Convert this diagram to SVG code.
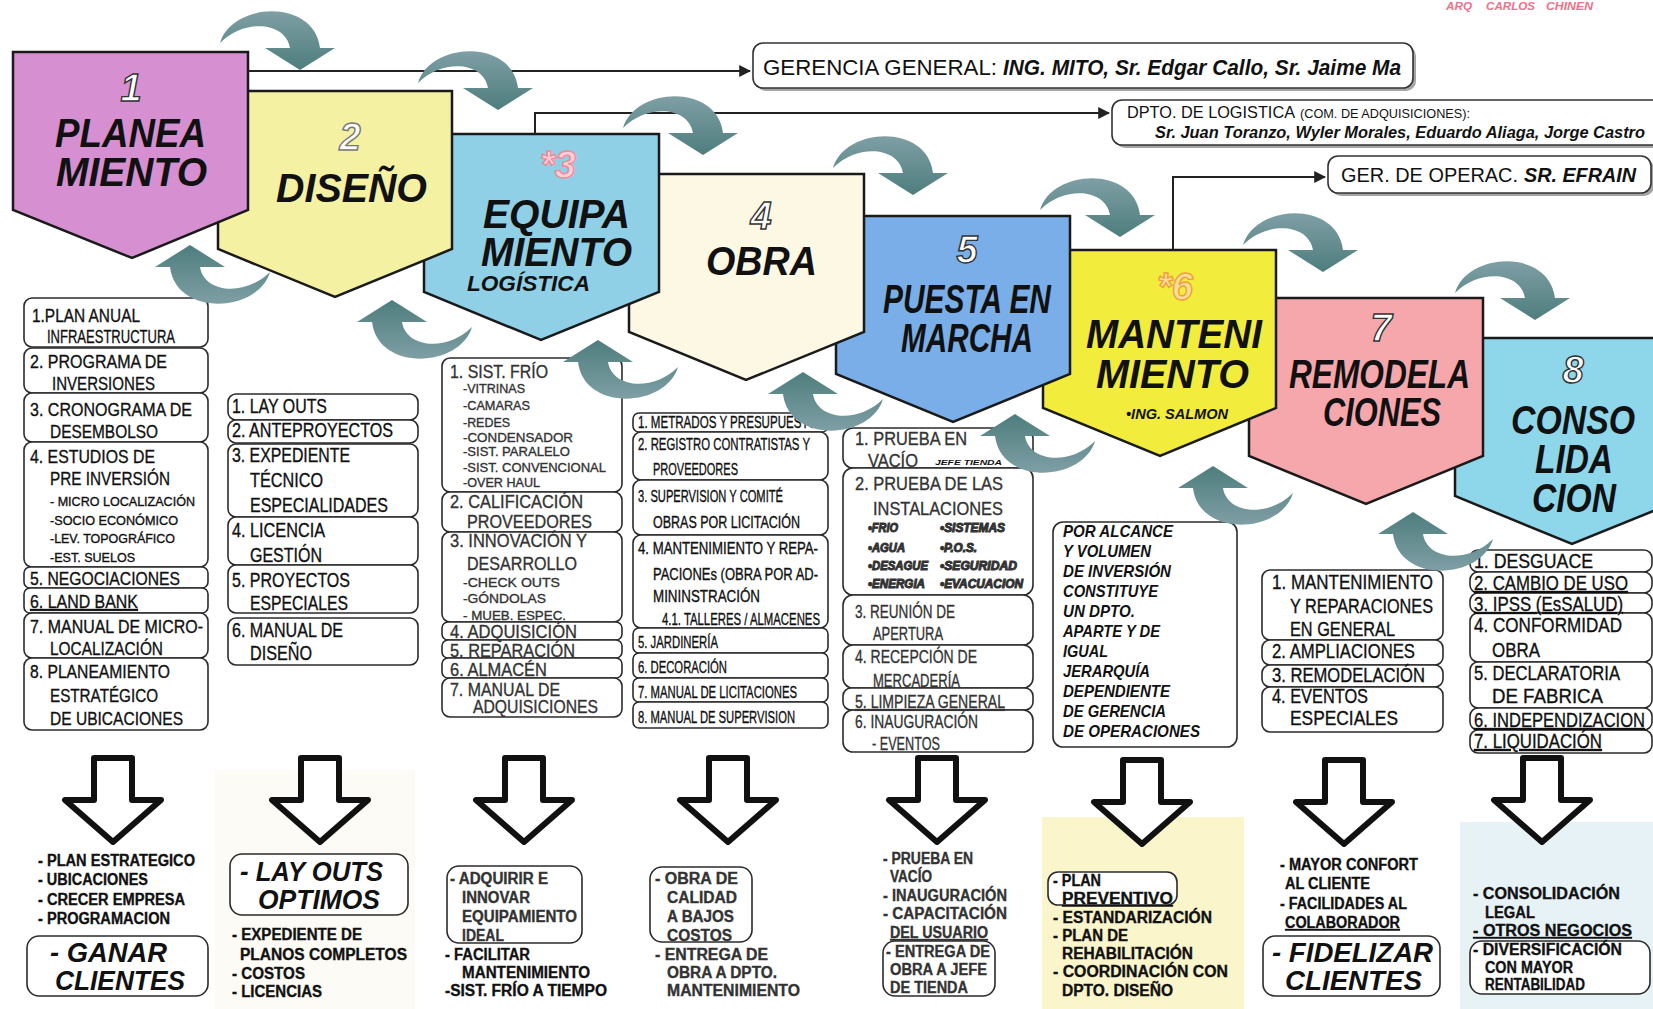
<svg xmlns="http://www.w3.org/2000/svg" width="1653" height="1009" viewBox="0 0 1653 1009">
<defs>
<style>
text{font-family:"Liberation Sans",Arial,Helvetica,sans-serif;fill:#111}
.pent{stroke:#1a1a1a;stroke-width:2.5;stroke-linejoin:miter}
.lbl{font-size:40px;font-weight:bold;font-style:italic}
.num{font-size:38px;font-weight:bold;font-style:italic;fill:#fff;stroke:#333;stroke-width:1.4}
.box{fill:#fff;stroke:#2b2b2b;stroke-width:1.6}
.c{font-size:19px}
.c2{font-size:20px}
.d{font-size:16px}
.s{font-size:13px}
.c,.c2,.d,.s{stroke:#111;stroke-width:0.35}
.b{font-weight:bold}
.bi{font-weight:bold;font-style:italic}
.arc{fill:url(#ag)}
.down{fill:#fff;stroke:#111;stroke-width:6;stroke-linejoin:round}
.conn{fill:none;stroke:#222;stroke-width:2}
.u{text-decoration:underline}
.g{fill:#333;stroke:#333}
</style>
<linearGradient id="ag" x1="0" y1="0" x2="0" y2="1">
<stop offset="0" stop-color="#7e9fa5"/>
<stop offset="1" stop-color="#4e7d7d"/>
</linearGradient>
<marker id="ah" viewBox="0 0 10 10" refX="9" refY="5" markerWidth="6" markerHeight="6" orient="auto">
<path d="M0,0 L10,5 L0,10 Z" fill="#222"/>
</marker>
<path id="tarc" d="M-80,-27 C-68,-68 14,-72 20,-22 L35,-22 L0,0 L-35,-22 L-10,-22 C-14,-48 -55,-52 -80,-27 Z"/>
</defs>

<rect x="0" y="0" width="1653" height="1009" fill="#fff"/>
<!-- faint backgrounds -->
<rect x="215" y="770" width="200" height="239" fill="#fcfbf5"/>
<rect x="1042" y="817" width="202" height="192" fill="#fbf5cc"/>
<rect x="1460" y="822" width="193" height="187" fill="#e7f2f7"/>

<!-- signature -->
<g id="signature">
<text class="bi" x="1446" y="10" font-size="11" style="fill:#f0708a" textLength="26" lengthAdjust="spacingAndGlyphs">ARQ</text>
<text class="bi" x="1486" y="10" font-size="11" style="fill:#f0708a" textLength="49" lengthAdjust="spacingAndGlyphs">CARLOS</text>
<text class="bi" x="1546" y="10" font-size="11" style="fill:#f0708a" textLength="47" lengthAdjust="spacingAndGlyphs">CHINEN</text>
</g>

<!-- pentagons, drawn back to front -->
<g id="n8"><polygon class="pent" fill="#8ed6ea" points="1455,338 1690,338 1690,496 1572,544 1455,496"/>
<text class="num" x="1573" y="383" text-anchor="middle">8</text>
<text class="lbl" x="1511" y="434" textLength="124" lengthAdjust="spacingAndGlyphs">CONSO</text>
<text class="lbl" x="1535" y="473" textLength="78" lengthAdjust="spacingAndGlyphs">LIDA</text>
<text class="lbl" x="1532" y="512" textLength="84" lengthAdjust="spacingAndGlyphs">CION</text></g>

<g id="n7"><polygon class="pent" fill="#f6a7ab" points="1249,298 1483,298 1483,456 1366,504 1249,456"/>
<text class="num" x="1381" y="341" text-anchor="middle">7</text>
<text class="lbl" x="1289" y="388" textLength="181" lengthAdjust="spacingAndGlyphs">REMODELA</text>
<text class="lbl" x="1323" y="426" textLength="118" lengthAdjust="spacingAndGlyphs">CIONES</text></g>

<g id="n6"><polygon class="pent" fill="#f2ec3c" points="1043,250 1276,250 1276,408 1160,456 1043,408"/>
<text class="num" x="1175" y="300" text-anchor="middle" style="fill:#fbdf9a;stroke:#f0a040">*6</text>
<text class="lbl" x="1086" y="348" textLength="176" lengthAdjust="spacingAndGlyphs">MANTENI</text>
<text class="lbl" x="1096" y="388" textLength="153" lengthAdjust="spacingAndGlyphs">MIENTO</text>
<text class="bi" x="1126" y="419" font-size="15" textLength="102" lengthAdjust="spacingAndGlyphs">•ING. SALMON</text></g>

<g id="n5"><polygon class="pent" fill="#7aaee8" points="836,216 1070,216 1070,374 953,422 836,374"/>
<text class="num" x="967" y="263" text-anchor="middle">5</text>
<text class="lbl" x="883" y="313" textLength="168" lengthAdjust="spacingAndGlyphs">PUESTA EN</text>
<text class="lbl" x="901" y="352" textLength="132" lengthAdjust="spacingAndGlyphs">MARCHA</text></g>

<g id="n4"><polygon class="pent" fill="#fdf8e4" points="629,174 864,174 864,332 746,380 629,332"/>
<text class="num" x="761" y="229" text-anchor="middle">4</text>
<text class="lbl" x="706" y="275" textLength="111" lengthAdjust="spacingAndGlyphs">OBRA</text></g>

<g id="n3"><polygon class="pent" fill="#8fd0e6" points="424,134 659,134 659,292 541,340 424,292"/>
<text class="num" x="558" y="178" text-anchor="middle" style="fill:#f9d0d8;stroke:#f08a98">*3</text>
<text class="lbl" x="483" y="228" textLength="147" lengthAdjust="spacingAndGlyphs">EQUIPA</text>
<text class="lbl" x="481" y="266" textLength="151" lengthAdjust="spacingAndGlyphs">MIENTO</text>
<text class="bi" x="467" y="291" font-size="22" textLength="123" lengthAdjust="spacingAndGlyphs">LOGÍSTICA</text></g>

<g id="n2"><polygon class="pent" fill="#f5f1a3" points="218,91 452,91 452,249 335,297 218,249"/>
<text class="num" x="350" y="150" text-anchor="middle" style="stroke:#777">2</text>
<text class="lbl" x="276" y="202" textLength="151" lengthAdjust="spacingAndGlyphs">DISEÑO</text></g>

<g id="n1"><polygon class="pent" fill="#d68fd0" points="13,52 248,52 248,210 132,258 13,210"/>
<text class="num" x="131" y="101" text-anchor="middle" font-size="40">1</text>
<text class="lbl" x="55" y="147" textLength="151" lengthAdjust="spacingAndGlyphs">PLANEA</text>
<text class="lbl" x="56" y="186" textLength="151" lengthAdjust="spacingAndGlyphs">MIENTO</text></g>

<!-- header boxes -->
<g id="gerencia">
<rect x="756" y="46" width="660" height="45" rx="10" fill="#a5a5a5"/>
<rect x="753" y="43" width="660" height="45" rx="10" fill="#fff" stroke="#333" stroke-width="1.6"/>
<text x="763" y="75" font-size="22" textLength="234" lengthAdjust="spacingAndGlyphs">GERENCIA GENERAL:</text>
<text class="bi" x="1003" y="75" font-size="22" textLength="398" lengthAdjust="spacingAndGlyphs">ING. MITO, Sr. Edgar Callo, Sr. Jaime Ma</text>
</g>
<g id="logistica">
<rect x="1115" y="103" width="560" height="45" rx="10" fill="#a5a5a5"/>
<rect x="1112" y="100" width="560" height="45" rx="10" fill="#fff" stroke="#333" stroke-width="1.6"/>
<text x="1127" y="118" font-size="17" textLength="168" lengthAdjust="spacingAndGlyphs">DPTO. DE LOGISTICA</text>
<text x="1300" y="118" font-size="12" textLength="170" lengthAdjust="spacingAndGlyphs">(COM. DE ADQUISICIONES):</text>
<text class="bi" x="1155" y="138" font-size="17" textLength="490" lengthAdjust="spacingAndGlyphs">Sr. Juan Toranzo, Wyler Morales, Eduardo Aliaga, Jorge Castro</text>
</g>
<g id="operaciones">
<rect x="1331" y="159" width="323" height="37" rx="10" fill="#a5a5a5"/>
<rect x="1328" y="156" width="323" height="37" rx="10" fill="#fff" stroke="#333" stroke-width="1.6"/>
<text x="1341" y="182" font-size="21" textLength="177" lengthAdjust="spacingAndGlyphs">GER. DE OPERAC.</text>
<text class="bi" x="1524" y="182" font-size="21" textLength="112" lengthAdjust="spacingAndGlyphs">SR. EFRAIN</text>
</g>

<!-- lists -->
<g id="list1">
<rect class="box" x="24" y="298" width="184" height="49" rx="8"/>
<rect class="box" x="24" y="348" width="184" height="45" rx="8"/>
<rect class="box" x="24" y="393" width="184" height="49" rx="8"/>
<rect class="box" x="24" y="442" width="184" height="125" rx="8"/>
<rect class="box" x="24" y="567" width="184" height="21" rx="6"/>
<rect class="box" x="24" y="588" width="184" height="25" rx="6"/>
<rect class="box" x="24" y="613" width="184" height="45" rx="8"/>
<rect class="box" x="24" y="658" width="184" height="72" rx="8"/>
<text class="c" x="32" y="322" textLength="108" lengthAdjust="spacingAndGlyphs">1.PLAN ANUAL</text>
<text class="c" x="47" y="343" textLength="128" lengthAdjust="spacingAndGlyphs">INFRAESTRUCTURA</text>
<text class="c" x="30" y="368" textLength="137" lengthAdjust="spacingAndGlyphs">2. PROGRAMA DE</text>
<text class="c" x="52" y="390" textLength="103" lengthAdjust="spacingAndGlyphs">INVERSIONES</text>
<text class="c" x="30" y="416" textLength="162" lengthAdjust="spacingAndGlyphs">3. CRONOGRAMA DE</text>
<text class="c" x="50" y="438" textLength="108" lengthAdjust="spacingAndGlyphs">DESEMBOLSO</text>
<text class="c" x="30" y="463" textLength="125" lengthAdjust="spacingAndGlyphs">4. ESTUDIOS DE</text>
<text class="c" x="50" y="485" textLength="120" lengthAdjust="spacingAndGlyphs">PRE INVERSIÓN</text>
<text class="s" x="50" y="506" textLength="145" lengthAdjust="spacingAndGlyphs">- MICRO LOCALIZACIÓN</text>
<text class="s" x="50" y="525" textLength="128" lengthAdjust="spacingAndGlyphs">-SOCIO ECONÓMICO</text>
<text class="s" x="50" y="543" textLength="125" lengthAdjust="spacingAndGlyphs">-LEV. TOPOGRÁFICO</text>
<text class="s" x="50" y="562" textLength="85" lengthAdjust="spacingAndGlyphs">-EST. SUELOS</text>
<text class="c" x="30" y="585" textLength="150" lengthAdjust="spacingAndGlyphs">5. NEGOCIACIONES</text>
<text class="c u" x="30" y="608" textLength="108" lengthAdjust="spacingAndGlyphs">6. LAND BANK</text>
<text class="c" x="30" y="633" textLength="173" lengthAdjust="spacingAndGlyphs">7. MANUAL DE  MICRO-</text>
<text class="c" x="50" y="655" textLength="113" lengthAdjust="spacingAndGlyphs">LOCALIZACIÓN</text>
<text class="c" x="30" y="678" textLength="140" lengthAdjust="spacingAndGlyphs">8. PLANEAMIENTO</text>
<text class="c" x="50" y="702" textLength="108" lengthAdjust="spacingAndGlyphs">ESTRATÉGICO</text>
<text class="c" x="50" y="725" textLength="133" lengthAdjust="spacingAndGlyphs">DE UBICACIONES</text>
</g>

<g id="list2">
<rect class="box" x="228" y="394" width="190" height="26" rx="8"/>
<rect class="box" x="228" y="420" width="190" height="23" rx="8"/>
<rect class="box" x="228" y="444" width="190" height="73" rx="8"/>
<rect class="box" x="228" y="517" width="190" height="48" rx="8"/>
<rect class="box" x="228" y="565" width="190" height="48" rx="8"/>
<rect class="box" x="228" y="618" width="190" height="47" rx="8"/>
<text class="c2" x="232" y="413" textLength="95" lengthAdjust="spacingAndGlyphs">1. LAY OUTS</text>
<text class="c2" x="232" y="437" textLength="161" lengthAdjust="spacingAndGlyphs">2. ANTEPROYECTOS</text>
<text class="c2" x="232" y="462" textLength="118" lengthAdjust="spacingAndGlyphs">3. EXPEDIENTE</text>
<text class="c2" x="250" y="487" textLength="73" lengthAdjust="spacingAndGlyphs">TÉCNICO</text>
<text class="c2" x="250" y="512" textLength="138" lengthAdjust="spacingAndGlyphs">ESPECIALIDADES</text>
<text class="c2" x="232" y="537" textLength="93" lengthAdjust="spacingAndGlyphs">4. LICENCIA</text>
<text class="c2" x="250" y="562" textLength="72" lengthAdjust="spacingAndGlyphs">GESTIÓN</text>
<text class="c2" x="232" y="587" textLength="118" lengthAdjust="spacingAndGlyphs">5. PROYECTOS</text>
<text class="c2" x="250" y="610" textLength="98" lengthAdjust="spacingAndGlyphs">ESPECIALES</text>
<text class="c2" x="232" y="637" textLength="111" lengthAdjust="spacingAndGlyphs">6. MANUAL DE</text>
<text class="c2" x="250" y="660" textLength="62" lengthAdjust="spacingAndGlyphs">DISEÑO</text>
</g>

<g id="list3">
<rect class="box" x="442" y="358" width="180" height="134" rx="8"/>
<rect class="box" x="442" y="492" width="180" height="40" rx="8"/>
<rect class="box" x="442" y="532" width="180" height="90" rx="8"/>
<rect class="box" x="442" y="622" width="180" height="18" rx="6"/>
<rect class="box" x="442" y="640" width="180" height="18" rx="6"/>
<rect class="box" x="442" y="658" width="180" height="20" rx="6"/>
<rect class="box" x="442" y="678" width="180" height="39" rx="8"/>
<text class="c g" x="450" y="378" textLength="98" lengthAdjust="spacingAndGlyphs">1. SIST. FRÍO</text>
<text class="s g" x="463" y="393" textLength="62" lengthAdjust="spacingAndGlyphs">-VITRINAS</text>
<text class="s g" x="463" y="410" textLength="67" lengthAdjust="spacingAndGlyphs">-CAMARAS</text>
<text class="s g" x="463" y="427" textLength="47" lengthAdjust="spacingAndGlyphs">-REDES</text>
<text class="s g" x="463" y="442" textLength="110" lengthAdjust="spacingAndGlyphs">-CONDENSADOR</text>
<text class="s g" x="463" y="456" textLength="107" lengthAdjust="spacingAndGlyphs">-SIST. PARALELO</text>
<text class="s g" x="463" y="472" textLength="143" lengthAdjust="spacingAndGlyphs">-SIST. CONVENCIONAL</text>
<text class="s g" x="463" y="487" textLength="77" lengthAdjust="spacingAndGlyphs">-OVER HAUL</text>
<text class="c g" x="450" y="508" textLength="133" lengthAdjust="spacingAndGlyphs">2. CALIFICACIÓN</text>
<text class="c g" x="467" y="528" textLength="125" lengthAdjust="spacingAndGlyphs">PROVEEDORES</text>
<text class="c g" x="450" y="547" textLength="137" lengthAdjust="spacingAndGlyphs">3. INNOVACIÓN Y</text>
<text class="c g" x="467" y="570" textLength="110" lengthAdjust="spacingAndGlyphs">DESARROLLO</text>
<text class="s g" x="463" y="587" textLength="97" lengthAdjust="spacingAndGlyphs">-CHECK OUTS</text>
<text class="s g" x="463" y="603" textLength="83" lengthAdjust="spacingAndGlyphs">-GÓNDOLAS</text>
<text class="s g" x="463" y="620" textLength="103" lengthAdjust="spacingAndGlyphs">- MUEB. ESPEC.</text>
<text class="c g" x="450" y="638" font-size="17" textLength="127" lengthAdjust="spacingAndGlyphs">4. ADQUISICIÓN</text>
<text class="c g" x="450" y="657" font-size="17" textLength="125" lengthAdjust="spacingAndGlyphs">5. REPARACIÓN</text>
<text class="c g" x="450" y="676" font-size="17" textLength="97" lengthAdjust="spacingAndGlyphs">6. ALMACÉN</text>
<text class="c g" x="450" y="696" font-size="17" textLength="110" lengthAdjust="spacingAndGlyphs">7. MANUAL DE</text>
<text class="c g" x="473" y="713" font-size="17" textLength="125" lengthAdjust="spacingAndGlyphs">ADQUISICIONES</text>
</g>

<g id="list4">
<rect class="box" x="633" y="413" width="195" height="19" rx="6"/>
<rect class="box" x="633" y="432" width="195" height="48" rx="8"/>
<rect class="box" x="633" y="480" width="195" height="55" rx="8"/>
<rect class="box" x="633" y="535" width="195" height="93" rx="8"/>
<rect class="box" x="633" y="628" width="195" height="25" rx="6"/>
<rect class="box" x="633" y="653" width="195" height="25" rx="6"/>
<rect class="box" x="633" y="678" width="195" height="24" rx="6"/>
<rect class="box" x="633" y="702" width="195" height="26" rx="6"/>
<text class="d" x="638" y="428" textLength="187" lengthAdjust="spacingAndGlyphs">1. METRADOS Y PRESUPUESTOS</text>
<text class="d" x="638" y="450" textLength="172" lengthAdjust="spacingAndGlyphs">2. REGISTRO CONTRATISTAS Y</text>
<text class="d" x="653" y="475" textLength="85" lengthAdjust="spacingAndGlyphs">PROVEEDORES</text>
<text class="d" x="638" y="502" textLength="145" lengthAdjust="spacingAndGlyphs">3. SUPERVISION Y COMITÉ</text>
<text class="d" x="653" y="528" textLength="147" lengthAdjust="spacingAndGlyphs">OBRAS POR LICITACIÓN</text>
<text class="d" x="638" y="554" textLength="180" lengthAdjust="spacingAndGlyphs">4. MANTENIMIENTO Y REPA-</text>
<text class="d" x="653" y="580" textLength="165" lengthAdjust="spacingAndGlyphs">PACIONEs (OBRA POR AD-</text>
<text class="d" x="653" y="602" textLength="107" lengthAdjust="spacingAndGlyphs">MININSTRACIÓN</text>
<text class="d" x="662" y="625" textLength="158" lengthAdjust="spacingAndGlyphs">4.1.  TALLERES / ALMACENES</text>
<text class="d" x="638" y="648" textLength="80" lengthAdjust="spacingAndGlyphs">5. JARDINERÍA</text>
<text class="d" x="638" y="673" textLength="89" lengthAdjust="spacingAndGlyphs">6. DECORACIÓN</text>
<text class="d" x="638" y="698" textLength="159" lengthAdjust="spacingAndGlyphs">7. MANUAL DE LICITACIONES</text>
<text class="d" x="638" y="723" textLength="157" lengthAdjust="spacingAndGlyphs">8. MANUAL DE SUPERVISION</text>
</g>

<g id="list5">
<rect class="box" x="843" y="428" width="190" height="40" rx="10"/>
<rect class="box" x="843" y="468" width="190" height="127" rx="10"/>
<rect class="box" x="843" y="595" width="190" height="50" rx="10"/>
<rect class="box" x="843" y="645" width="190" height="43" rx="10"/>
<rect class="box" x="843" y="688" width="190" height="22" rx="8"/>
<rect class="box" x="843" y="710" width="190" height="42" rx="10"/>
<text class="c g" x="855" y="445" textLength="112" lengthAdjust="spacingAndGlyphs">1. PRUEBA EN</text>
<text class="c g" x="868" y="467" textLength="50" lengthAdjust="spacingAndGlyphs">VACÍO</text>
<text class="bi" x="935" y="465" font-size="8" textLength="67" lengthAdjust="spacingAndGlyphs">JEFE TIENDA</text>
<text class="c g" x="855" y="490" textLength="148" lengthAdjust="spacingAndGlyphs">2. PRUEBA DE LAS</text>
<text class="c g" x="873" y="515" textLength="130" lengthAdjust="spacingAndGlyphs">INSTALACIONES</text>
<text class="bi g" x="868" y="532" font-size="12" textLength="30" lengthAdjust="spacingAndGlyphs">•FRIO</text>
<text class="bi g" x="940" y="532" font-size="12" textLength="65" lengthAdjust="spacingAndGlyphs">•SISTEMAS</text>
<text class="bi g" x="868" y="552" font-size="12" textLength="37" lengthAdjust="spacingAndGlyphs">•AGUA</text>
<text class="bi g" x="940" y="552" font-size="12" textLength="37" lengthAdjust="spacingAndGlyphs">•P.O.S.</text>
<text class="bi g" x="868" y="570" font-size="12" textLength="60" lengthAdjust="spacingAndGlyphs">•DESAGUE</text>
<text class="bi g" x="940" y="570" font-size="12" textLength="77" lengthAdjust="spacingAndGlyphs">•SEGURIDAD</text>
<text class="bi g" x="868" y="588" font-size="12" textLength="57" lengthAdjust="spacingAndGlyphs">•ENERGIA</text>
<text class="bi g" x="940" y="588" font-size="12" textLength="83" lengthAdjust="spacingAndGlyphs">•EVACUACION</text>
<text class="c g" x="855" y="618" textLength="100" lengthAdjust="spacingAndGlyphs">3. REUNIÓN DE</text>
<text class="c g" x="873" y="640" textLength="70" lengthAdjust="spacingAndGlyphs">APERTURA</text>
<text class="c g" x="855" y="663" textLength="122" lengthAdjust="spacingAndGlyphs">4. RECEPCIÓN DE</text>
<text class="c g" x="873" y="687" textLength="87" lengthAdjust="spacingAndGlyphs">MERCADERÍA</text>
<text class="c g u" x="855" y="708" textLength="150" lengthAdjust="spacingAndGlyphs">5. LIMPIEZA GENERAL</text>
<text class="c g" x="855" y="728" textLength="123" lengthAdjust="spacingAndGlyphs">6. INAUGURACIÓN</text>
<text class="c g" x="872" y="750" textLength="68" lengthAdjust="spacingAndGlyphs">- EVENTOS</text>
</g>

<g id="list6">
<rect class="box" x="1053" y="522" width="184" height="225" rx="10"/>
<text class="bi" x="1063" y="537" font-size="17" textLength="110" lengthAdjust="spacingAndGlyphs">POR ALCANCE</text>
<text class="bi" x="1063" y="557" font-size="17" textLength="88" lengthAdjust="spacingAndGlyphs">Y VOLUMEN</text>
<text class="bi" x="1063" y="577" font-size="17" textLength="108" lengthAdjust="spacingAndGlyphs">DE INVERSIÓN</text>
<text class="bi" x="1063" y="597" font-size="17" textLength="95" lengthAdjust="spacingAndGlyphs">CONSTITUYE</text>
<text class="bi" x="1063" y="617" font-size="17" textLength="72" lengthAdjust="spacingAndGlyphs">UN DPTO.</text>
<text class="bi" x="1063" y="637" font-size="17" textLength="97" lengthAdjust="spacingAndGlyphs">APARTE Y DE</text>
<text class="bi" x="1063" y="657" font-size="17" textLength="45" lengthAdjust="spacingAndGlyphs">IGUAL</text>
<text class="bi" x="1063" y="677" font-size="17" textLength="87" lengthAdjust="spacingAndGlyphs">JERARQUÍA</text>
<text class="bi" x="1063" y="697" font-size="17" textLength="107" lengthAdjust="spacingAndGlyphs">DEPENDIENTE</text>
<text class="bi" x="1063" y="717" font-size="17" textLength="103" lengthAdjust="spacingAndGlyphs">DE GERENCIA</text>
<text class="bi" x="1063" y="737" font-size="17" textLength="137" lengthAdjust="spacingAndGlyphs">DE OPERACIONES</text>
</g>

<g id="list7">
<rect class="box" x="1262" y="570" width="181" height="70" rx="8"/>
<rect class="box" x="1262" y="640" width="181" height="25" rx="8"/>
<rect class="box" x="1262" y="665" width="181" height="22" rx="8"/>
<rect class="box" x="1262" y="687" width="181" height="45" rx="8"/>
<text class="c2" x="1272" y="589" textLength="161" lengthAdjust="spacingAndGlyphs">1. MANTENIMIENTO</text>
<text class="c2" x="1290" y="613" textLength="143" lengthAdjust="spacingAndGlyphs">Y REPARACIONES</text>
<text class="c2" x="1290" y="636" textLength="105" lengthAdjust="spacingAndGlyphs">EN GENERAL</text>
<text class="c2" x="1272" y="658" textLength="143" lengthAdjust="spacingAndGlyphs">2. AMPLIACIONES</text>
<text class="c2" x="1272" y="682" textLength="153" lengthAdjust="spacingAndGlyphs">3. REMODELACIÓN</text>
<text class="c2" x="1272" y="703" textLength="96" lengthAdjust="spacingAndGlyphs">4. EVENTOS</text>
<text class="c2" x="1290" y="725" textLength="108" lengthAdjust="spacingAndGlyphs">ESPECIALES</text>
</g>

<g id="list8">
<rect class="box" x="1470" y="550" width="182" height="22" rx="8"/>
<rect class="box" x="1470" y="572" width="182" height="21" rx="8"/>
<rect class="box" x="1470" y="593" width="182" height="20" rx="8"/>
<rect class="box" x="1470" y="613" width="182" height="49" rx="8"/>
<rect class="box" x="1470" y="662" width="182" height="46" rx="8"/>
<rect class="box" x="1470" y="708" width="182" height="22" rx="8"/>
<rect class="box" x="1470" y="730" width="182" height="23" rx="8"/>
<text class="c2" x="1474" y="568" textLength="119" lengthAdjust="spacingAndGlyphs">1. DESGUACE</text>
<text class="c2 u" x="1474" y="590" textLength="154" lengthAdjust="spacingAndGlyphs">2. CAMBIO DE USO</text>
<text class="c2 u" x="1474" y="611" textLength="149" lengthAdjust="spacingAndGlyphs">3. IPSS (EsSALUD)</text>
<text class="c2" x="1474" y="632" textLength="148" lengthAdjust="spacingAndGlyphs">4. CONFORMIDAD</text>
<text class="c2" x="1492" y="657" textLength="48" lengthAdjust="spacingAndGlyphs">OBRA</text>
<text class="c2" x="1474" y="680" textLength="146" lengthAdjust="spacingAndGlyphs">5. DECLARATORIA</text>
<text class="c2" x="1492" y="703" textLength="111" lengthAdjust="spacingAndGlyphs">DE FABRICA</text>
<text class="c2 u" x="1474" y="727" textLength="171" lengthAdjust="spacingAndGlyphs">6. INDEPENDIZACION</text>
<text class="c2 u" x="1474" y="748" textLength="128" lengthAdjust="spacingAndGlyphs">7. LIQUIDACIÓN</text>
</g>

<!-- connectors -->
<g id="connectors">
<path class="conn" d="M248,71 H750" marker-end="url(#ah)"/>
<path class="conn" d="M535,134 V113 H1109" marker-end="url(#ah)"/>
<path class="conn" d="M1173,250 V177 H1325" marker-end="url(#ah)"/>
<use class="arc" href="#tarc" transform="translate(300,70)"/>
<use class="arc" href="#tarc" transform="translate(498,110)"/>
<use class="arc" href="#tarc" transform="translate(703,155)"/>
<use class="arc" href="#tarc" transform="translate(913,195)"/>
<use class="arc" href="#tarc" transform="translate(1120,237)"/>
<use class="arc" href="#tarc" transform="translate(1323,272)"/>
<use class="arc" href="#tarc" transform="translate(1535,320)"/>
<use class="arc" href="#tarc" transform="translate(190,245) rotate(180)"/>
<use class="arc" href="#tarc" transform="translate(392,300) rotate(180)"/>
<use class="arc" href="#tarc" transform="translate(598,340) rotate(180)"/>
<use class="arc" href="#tarc" transform="translate(803,372) rotate(180)"/>
<use class="arc" href="#tarc" transform="translate(1015,414) rotate(180)"/>
<use class="arc" href="#tarc" transform="translate(1213,466) rotate(180)"/>
<use class="arc" href="#tarc" transform="translate(1413,512) rotate(180)"/>
<path class="down" d="M94,758 H132 V800 H161 L113,842 L65,800 H94 Z"/>
<path class="down" d="M301,758 H339 V800 H368 L320,842 L272,800 H301 Z"/>
<path class="down" d="M505,758 H543 V800 H572 L524,842 L476,800 H505 Z"/>
<path class="down" d="M709,758 H747 V800 H776 L728,842 L680,800 H709 Z"/>
<path class="down" d="M918,758 H956 V800 H985 L937,842 L889,800 H918 Z"/>
<path class="down" d="M1123,760 H1161 V802 H1190 L1142,844 L1094,802 H1123 Z"/>
<path class="down" d="M1325,760 H1363 V802 H1392 L1344,844 L1296,802 H1325 Z"/>
<path class="down" d="M1523,758 H1561 V800 H1590 L1542,842 L1494,800 H1523 Z"/>
</g>

<!-- results -->
<g id="res1">
<text class="d b" x="38" y="866" textLength="157" lengthAdjust="spacingAndGlyphs">- PLAN ESTRATEGICO</text>
<text class="d b" x="38" y="885" textLength="110" lengthAdjust="spacingAndGlyphs">- UBICACIONES</text>
<text class="d b" x="38" y="905" textLength="147" lengthAdjust="spacingAndGlyphs">- CRECER EMPRESA</text>
<text class="d b" x="38" y="924" textLength="132" lengthAdjust="spacingAndGlyphs">- PROGRAMACION</text>
<rect class="box" x="27" y="936" width="181" height="60" rx="12"/>
<text class="bi" x="50" y="962" font-size="28" textLength="117" lengthAdjust="spacingAndGlyphs">- GANAR</text>
<text class="bi" x="55" y="990" font-size="28" textLength="130" lengthAdjust="spacingAndGlyphs">CLIENTES</text>
</g>
<g id="res2">
<rect class="box" x="230" y="854" width="178" height="61" rx="12"/>
<text class="bi" x="240" y="881" font-size="28" textLength="143" lengthAdjust="spacingAndGlyphs">- LAY OUTS</text>
<text class="bi" x="258" y="909" font-size="28" textLength="122" lengthAdjust="spacingAndGlyphs">OPTIMOS</text>
<text class="d b" x="232" y="940" textLength="130" lengthAdjust="spacingAndGlyphs">- EXPEDIENTE DE</text>
<text class="d b" x="240" y="960" textLength="167" lengthAdjust="spacingAndGlyphs">PLANOS COMPLETOS</text>
<text class="d b" x="232" y="979" textLength="73" lengthAdjust="spacingAndGlyphs">- COSTOS</text>
<text class="d b" x="232" y="997" textLength="90" lengthAdjust="spacingAndGlyphs">- LICENCIAS</text>
</g>
<g id="res3">
<rect class="box" x="447" y="866" width="135" height="77" rx="12"/>
<text class="d b g" x="450" y="884" textLength="98" lengthAdjust="spacingAndGlyphs">- ADQUIRIR E</text>
<text class="d b g" x="462" y="903" textLength="68" lengthAdjust="spacingAndGlyphs">INNOVAR</text>
<text class="d b g" x="462" y="922" textLength="115" lengthAdjust="spacingAndGlyphs">EQUIPAMIENTO</text>
<text class="d b g" x="462" y="941" textLength="42" lengthAdjust="spacingAndGlyphs">IDEAL</text>
<text class="d b" x="445" y="960" textLength="85" lengthAdjust="spacingAndGlyphs">- FACILITAR</text>
<text class="d b" x="462" y="978" textLength="128" lengthAdjust="spacingAndGlyphs">MANTENIMIENTO</text>
<text class="d b" x="445" y="996" textLength="162" lengthAdjust="spacingAndGlyphs">-SIST. FRÍO A TIEMPO</text>
</g>
<g id="res4">
<rect class="box" x="650" y="867" width="102" height="75" rx="12"/>
<text class="d b g" x="655" y="884" textLength="83" lengthAdjust="spacingAndGlyphs">- OBRA DE</text>
<text class="d b g" x="667" y="903" textLength="70" lengthAdjust="spacingAndGlyphs">CALIDAD</text>
<text class="d b g" x="667" y="922" textLength="67" lengthAdjust="spacingAndGlyphs">A BAJOS</text>
<text class="d b g" x="667" y="941" textLength="65" lengthAdjust="spacingAndGlyphs">COSTOS</text>
<text class="d b g" x="655" y="960" textLength="113" lengthAdjust="spacingAndGlyphs">- ENTREGA DE</text>
<text class="d b g" x="667" y="978" textLength="110" lengthAdjust="spacingAndGlyphs">OBRA A DPTO.</text>
<text class="d b g" x="667" y="996" textLength="133" lengthAdjust="spacingAndGlyphs">MANTENIMIENTO</text>
</g>
<g id="res5">
<text class="d b g" x="883" y="864" textLength="90" lengthAdjust="spacingAndGlyphs">- PRUEBA EN</text>
<text class="d b g" x="890" y="882" textLength="42" lengthAdjust="spacingAndGlyphs">VACÍO</text>
<text class="d b g" x="883" y="901" textLength="124" lengthAdjust="spacingAndGlyphs">- INAUGURACIÓN</text>
<text class="d b g" x="883" y="919" textLength="124" lengthAdjust="spacingAndGlyphs">- CAPACITACIÓN</text>
<text class="d b g u" x="890" y="938" textLength="98" lengthAdjust="spacingAndGlyphs">DEL USUARIO</text>
<rect class="box" x="883" y="941" width="112" height="55" rx="12"/>
<text class="d b g" x="886" y="957" textLength="104" lengthAdjust="spacingAndGlyphs">- ENTREGA DE</text>
<text class="d b g" x="890" y="975" textLength="97" lengthAdjust="spacingAndGlyphs">OBRA A JEFE</text>
<text class="d b g" x="890" y="993" textLength="78" lengthAdjust="spacingAndGlyphs">DE TIENDA</text>
</g>
<g id="res6">
<rect class="box" x="1048" y="872" width="129" height="33" rx="10"/>
<text class="d b" x="1053" y="886" textLength="48" lengthAdjust="spacingAndGlyphs">- PLAN</text>
<text class="d b u" x="1062" y="904" textLength="111" lengthAdjust="spacingAndGlyphs">PREVENTIVO</text>
<text class="d b" x="1053" y="923" textLength="159" lengthAdjust="spacingAndGlyphs">- ESTANDARIZACIÓN</text>
<text class="d b" x="1053" y="941" textLength="75" lengthAdjust="spacingAndGlyphs">- PLAN DE</text>
<text class="d b" x="1062" y="959" textLength="131" lengthAdjust="spacingAndGlyphs">REHABILITACIÓN</text>
<text class="d b" x="1053" y="977" textLength="175" lengthAdjust="spacingAndGlyphs">- COORDINACIÓN CON</text>
<text class="d b" x="1062" y="996" textLength="111" lengthAdjust="spacingAndGlyphs">DPTO. DISEÑO</text>
</g>
<g id="res7">
<text class="d b" x="1280" y="870" textLength="138" lengthAdjust="spacingAndGlyphs">- MAYOR CONFORT</text>
<text class="d b" x="1285" y="889" textLength="85" lengthAdjust="spacingAndGlyphs">AL CLIENTE</text>
<text class="d b" x="1280" y="909" textLength="127" lengthAdjust="spacingAndGlyphs">- FACILIDADES AL</text>
<text class="d b u" x="1285" y="928" textLength="115" lengthAdjust="spacingAndGlyphs">COLABORADOR</text>
<rect class="box" x="1263" y="936" width="177" height="60" rx="12"/>
<text class="bi" x="1272" y="962" font-size="28" textLength="161" lengthAdjust="spacingAndGlyphs">- FIDELIZAR</text>
<text class="bi" x="1285" y="990" font-size="28" textLength="137" lengthAdjust="spacingAndGlyphs">CLIENTES</text>
</g>
<g id="res8">
<text class="d b" x="1473" y="899" textLength="147" lengthAdjust="spacingAndGlyphs">- CONSOLIDACIÓN</text>
<text class="d b" x="1485" y="918" textLength="50" lengthAdjust="spacingAndGlyphs">LEGAL</text>
<text class="d b u" x="1473" y="936" textLength="159" lengthAdjust="spacingAndGlyphs">- OTROS NEGOCIOS</text>
<rect class="box" x="1470" y="941" width="180" height="53" rx="12"/>
<text class="d b" x="1473" y="955" textLength="149" lengthAdjust="spacingAndGlyphs">- DIVERSIFICACIÓN</text>
<text class="d b" x="1485" y="973" textLength="88" lengthAdjust="spacingAndGlyphs">CON MAYOR</text>
<text class="d b" x="1485" y="990" textLength="100" lengthAdjust="spacingAndGlyphs">RENTABILIDAD</text>
</g>
</svg>
